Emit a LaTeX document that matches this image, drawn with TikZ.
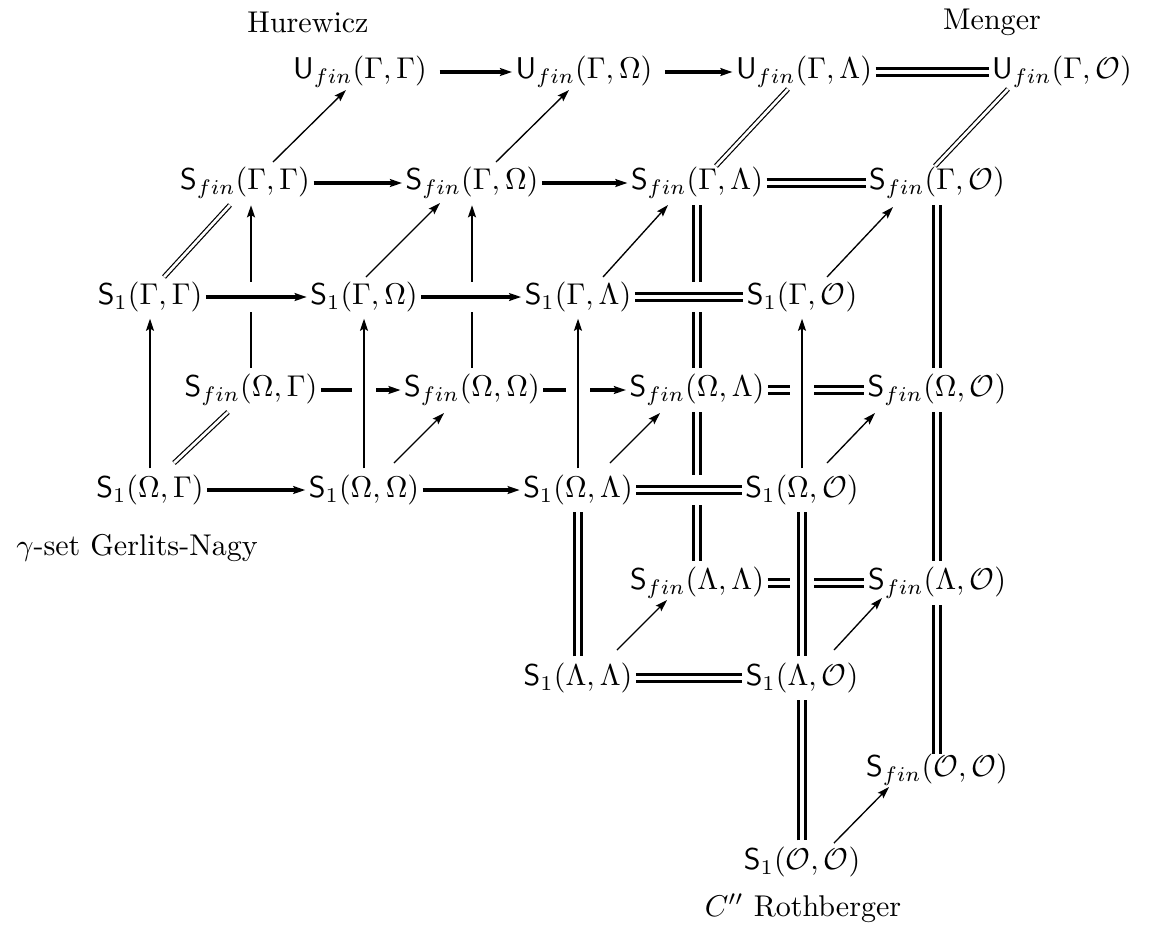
\documentclass[tikz,border=0pt]{standalone}
\usetikzlibrary{arrows.meta,calc}
\begin{document}
\begin{tikzpicture}[x=0.0117cm, y=-0.0117cm,
    >={Stealth[length=4pt,width=2.6pt,inset=0.7pt]},
    every node/.style={inner xsep=1pt, inner ysep=2pt},
    hline/.style={line width=1.05pt},
    vline/.style={line width=0.75pt},
    dline/.style={line width=1.05pt, double, double distance=1.05pt},
    diag/.style={line width=0.45pt},
    ddiag/.style={line width=0.4pt, double, double distance=0.9pt},
    halo/.style={draw=white, line width=#1},
    halo/.default=8pt]
        \useasboundingbox (0,0) rectangle (1152,936);

        % Labels
        \node (hur) at (308,22) {Hurewicz};
        \node (men) at (992,22) {Menger};
        \node (gn) at (137,548) {$\gamma$-set Gerlits-Nagy};
        \node (rb) at (803,908) {$C''$ Rothberger};

        % The U_fin row
        \node (ugg) at (360,72) {$\mathsf{U}_{fin}(\Gamma,\Gamma)$};
        \node (ugo) at (584,72) {$\mathsf{U}_{fin}(\Gamma,\Omega)$};
        \node (ugl) at (804,72) {$\mathsf{U}_{fin}(\Gamma,\Lambda)$};
        \node (ugc) at (1062,72) {$\mathsf{U}_{fin}(\Gamma,\mathcal{O})$};

        % The S_fin layer
        \node (sgg) at (245,183) {$\mathsf{S}_{fin}(\Gamma,\Gamma)$};
        \node (sgo) at (472,183) {$\mathsf{S}_{fin}(\Gamma,\Omega)$};
        \node (sgl) at (697,183) {$\mathsf{S}_{fin}(\Gamma,\Lambda)$};
        \node (sgc) at (937,183) {$\mathsf{S}_{fin}(\Gamma,\mathcal{O})$};
        \node (sog) at (251,390) {$\mathsf{S}_{fin}(\Omega,\Gamma)$};
        \node (soo) at (472,390) {$\mathsf{S}_{fin}(\Omega,\Omega)$};
        \node (sol) at (697,390) {$\mathsf{S}_{fin}(\Omega,\Lambda)$};
        \node (soc) at (937,390) {$\mathsf{S}_{fin}(\Omega,\mathcal{O})$};
        \node (sll) at (697,583) {$\mathsf{S}_{fin}(\Lambda,\Lambda)$};
        \node (slc) at (937,583) {$\mathsf{S}_{fin}(\Lambda,\mathcal{O})$};
        \node (scc) at (937,770) {$\mathsf{S}_{fin}(\mathcal{O},\mathcal{O})$};

        % The S_1 layer
        \node (ogg) at (150,297) {$\mathsf{S}_1(\Gamma,\Gamma)$};
        \node (ogo) at (364,297) {$\mathsf{S}_1(\Gamma,\Omega)$};
        \node (ogl) at (578,297) {$\mathsf{S}_1(\Gamma,\Lambda)$};
        \node (ogc) at (802,297) {$\mathsf{S}_1(\Gamma,\mathcal{O})$};
        \node (oog) at (150,490) {$\mathsf{S}_1(\Omega,\Gamma)$};
        \node (ooo) at (364,490) {$\mathsf{S}_1(\Omega,\Omega)$};
        \node (ool) at (578,490) {$\mathsf{S}_1(\Omega,\Lambda)$};
        \node (ooc) at (802,490) {$\mathsf{S}_1(\Omega,\mathcal{O})$};
        \node (oll) at (578,678) {$\mathsf{S}_1(\Lambda,\Lambda)$};
        \node (olc) at (802,678) {$\mathsf{S}_1(\Lambda,\mathcal{O})$};
        \node (occ) at (802,862) {$\mathsf{S}_1(\mathcal{O},\mathcal{O})$};

        % Arrows of the U_fin row
        \draw[hline,->,shorten <=3pt] (ugg) -- (ugo);
        \draw[hline,->,shorten <=3pt] (ugo) -- (ugl);
        \draw[dline] (ugl) -- (ugc);

        % Arrows of the S_fin layer (drawn first, so the S_1 layer cuts them)
        \draw[hline,->] (sgg) -- (sgo);
        \draw[hline,->] (sgo) -- (sgl);
        \draw[dline] (sgl) -- (sgc);
        \draw[hline,->] (sog) -- (soo);
        \draw[hline,->] (soo) -- (sol);
        \draw[dline] (sol) -- (soc);
        \draw[dline] (sll) -- (slc);
        \draw[vline,->] (sog) -- (sog |- sgg.south);
        \draw[vline,->] (soo) -- (sgo);
        \draw[dline] (sol) -- (sgl);
        \draw[dline] (soc) -- (sgc);
        \draw[dline] (sll) -- (sol);
        \draw[dline] (slc) -- (soc);
        \draw[dline] (slc) -- ($(scc.north)+(0,6)$);

        % White bands where the S_1 layer passes in front
        \draw[halo=10pt] (ogg) -- (ogo);
        \draw[halo=10pt] (ogo) -- (ogl);
        \draw[halo=10pt] (ogl) -- (ogc);
        \draw[halo=10pt] (ool) -- (ooc);
        \draw[halo] (ooo) -- (ogo);
        \draw[halo] (ool) -- (ogl);
        \draw[halo] (ooc) -- (ogc);
        \draw[halo] (olc) -- (ooc);

        % Arrows of the S_1 layer
        \draw[hline,->] (ogg) -- (ogo);
        \draw[hline,->] (ogo) -- (ogl);
        \draw[dline] (ogl) -- (ogc);
        \draw[hline,->] (oog) -- (ooo);
        \draw[hline,->] (ooo) -- (ool);
        \draw[dline] (ool) -- (ooc);
        \draw[dline] (oll) -- (olc);
        \draw[vline,->] (oog) -- (ogg);
        \draw[vline,->] (ooo) -- (ogo);
        \draw[vline,->] (ool) -- (ogl);
        \draw[vline,->] (ooc) -- (ogc);
        \draw[dline] (oll) -- (ool);
        \draw[dline] (olc) -- (ooc);
        \draw[dline] (occ) -- (olc);

        % Diagonals from S_fin to U_fin
        \draw[diag,->] ($(sgg)+(28,-21)$) -- ($(ugg)+(-14,18)$);
        \draw[diag,->] ($(sgo)+(24,-21)$) -- ($(ugo)+(-15,18)$);
        \draw[ddiag] ($(sgl)+(19,-17)$) -- ($(ugl)+(-16,17)$);
        \draw[ddiag] ($(sgc)+(-2,-17)$) -- ($(ugc)+(-54,17)$);

        % Diagonals from S_1 to S_fin
        \draw[ddiag] ($(ogg)+(14,-20)$) -- ($(sgg)+(-15,22)$);
        \draw[diag,->] ($(ogo)+(2,-20)$) -- ($(sgo)+(-32,20)$);
        \draw[diag,->] ($(ogl)+(25,-20)$) -- ($(sgl)+(-29,22)$);
        \draw[diag,->] ($(ogc)+(25,-20)$) -- ($(sgc)+(-44,24)$);
        \draw[ddiag] ($(oog)+(24,-27)$) -- ($(sog)+(-23,22)$);
        \draw[diag,->] ($(ooo)+(30,-27)$) -- ($(soo)+(-28,23)$);
        \draw[diag,->] ($(ool)+(32,-27)$) -- ($(sol)+(-37,23)$);
        \draw[diag,->] ($(ooc)+(25,-27)$) -- ($(soc)+(-62,23)$);
        \draw[diag,->] ($(oll)+(39,-28)$) -- ($(sll)+(-30,17)$);
        \draw[diag,->] ($(olc)+(32,-28)$) -- ($(slc)+(-55,15)$);
        \draw[diag,->] ($(occ)+(32,-19)$) -- ($(scc)+(-48,17)$);
\end{tikzpicture}
\end{document}
